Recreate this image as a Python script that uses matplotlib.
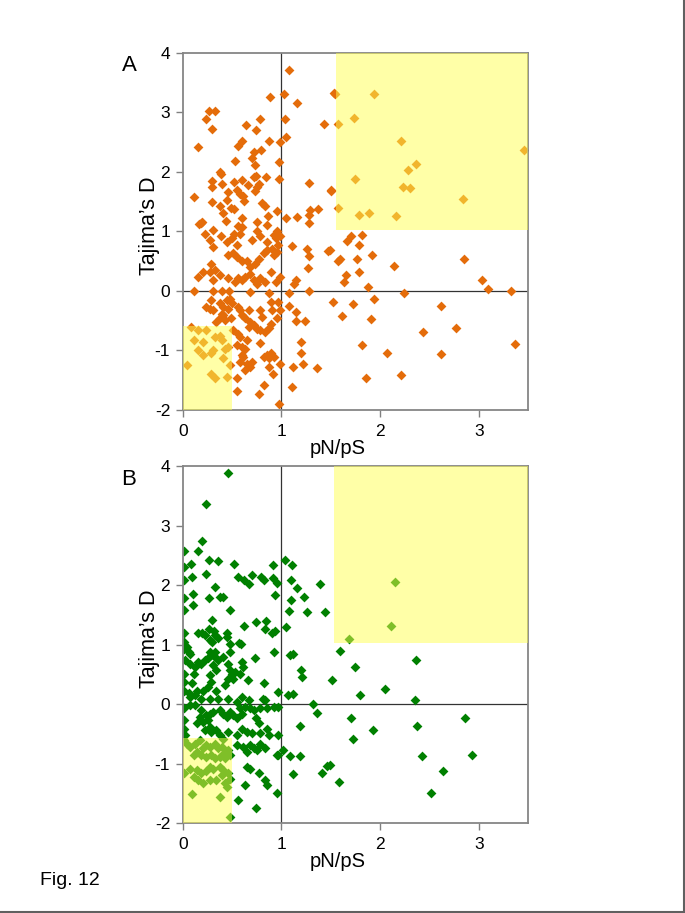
import matplotlib
matplotlib.use("Agg")
import matplotlib.pyplot as plt
from matplotlib.patches import Rectangle
from matplotlib.lines import Line2D

plt.rcParams['font.family'] = ['Liberation Sans', 'DejaVu Sans']

# ---------------- Panel A data (pN/pS, Tajima's D) ----------------
xA = [1.08, 0.88, 1.03, 1.16, 1.54, 1.575, 0.27, 0.33, 0.24, 0.30, 0.64, 0.78, 0.74, 1.04, 1.43,
      0.16, 0.605, 0.565, 0.87, 0.99, 1.05, 0.72, 0.79, 0.70, 0.53, 0.73, 0.98, 0.38, 0.385, 0.30,
      0.30, 0.40, 0.52, 0.60, 0.66, 0.72, 0.745, 0.845, 0.98, 0.77, 0.75, 0.73, 1.275, 1.50, 0.11,
      0.46, 0.55, 0.585, 0.615, 0.45, 0.625, 0.30, 0.38, 0.41, 0.49, 0.52, 0.80, 0.83, 0.95, 0.865,
      0.60, 0.44, 0.195, 0.185, 0.17, 0.56, 0.60, 0.75, 0.855, 1.045, 1.16, 1.275, 1.275, 1.29, 1.37,
      1.575, 0.23, 0.31, 0.39, 0.52, 0.75, 0.95, 0.92, 0.99,
      0.28, 0.31, 0.45, 0.50, 0.58, 0.55, 0.70, 0.78, 0.85, 0.94, 0.46, 0.51, 0.55, 0.60, 0.65,
      0.68, 0.73, 0.77, 0.82, 0.85, 0.90, 0.97, 0.95, 0.92, 0.29, 0.21, 0.28, 0.33, 0.16, 0.31,
      0.38, 0.46, 0.53, 0.56, 0.60, 0.63, 0.68, 0.72, 0.78, 0.75, 0.83, 0.89, 0.94, 0.99,
      0.11, 0.31, 0.40, 0.47, 0.68, 0.87, 1.08,
      0.29, 0.24, 0.28, 0.31, 0.38, 0.41, 0.40, 0.45, 0.48, 0.50, 0.46, 0.41, 0.38, 0.34, 0.43,
      0.49, 0.56, 0.58, 0.60, 0.63, 0.67, 0.68, 0.72, 0.67, 0.78, 0.80, 0.89, 0.90, 0.89, 0.95,
      0.99, 0.97, 0.75, 0.78, 0.83, 0.87, 0.78, 0.65, 0.58, 0.56, 0.51, 0.55, 0.60, 0.63, 0.60,
      0.61, 0.58, 0.65, 0.63, 0.68, 0.70, 0.82, 0.85, 0.89, 0.92, 0.87, 0.87, 0.91, 0.55, 0.82,
      0.77, 0.55, 0.99, 0.98,
      0.08, 0.16, 0.24, 0.11, 0.21, 0.33, 0.38, 0.40, 0.46, 0.43, 0.16, 0.21, 0.29, 0.31, 0.41,
      0.48, 0.04, 0.29, 0.33, 0.45,
      1.11, 1.26, 1.28, 1.27, 1.15, 1.13, 1.28, 1.47, 1.08, 1.15, 1.15, 1.24, 1.20, 1.20, 1.22,
      1.12, 1.36, 1.11,
      1.534, 1.94, 1.73, 2.21, 3.46, 2.36, 2.28, 1.75, 2.23, 2.30, 2.84, 1.50, 1.79, 1.89, 2.16,
      1.70, 1.82, 1.66, 1.79, 1.49, 1.92, 1.57, 1.59, 1.77, 2.14, 2.85, 1.79, 1.65, 1.63, 1.88,
      3.03, 3.09, 3.32, 2.24, 1.52, 1.72, 1.94, 2.62, 1.61, 1.91, 2.77, 2.43, 1.82, 2.07, 2.62,
      3.37, 1.86, 2.21]
yA = [3.71, 3.26, 3.30, 3.15, 3.31, 2.80, 3.02, 3.02, 2.89, 2.72, 2.79, 2.88, 2.70, 2.89, 2.80,
      2.41, 2.52, 2.44, 2.51, 2.50, 2.58, 2.34, 2.36, 2.23, 2.18, 2.12, 2.16, 2.00, 1.96, 1.85,
      1.74, 1.80, 1.83, 1.86, 1.78, 1.91, 1.93, 1.91, 1.88, 1.80, 1.75, 1.68, 1.82, 1.68, 1.575,
      1.66, 1.70, 1.62, 1.60, 1.53, 1.51, 1.49, 1.43, 1.31, 1.40, 1.37, 1.47, 1.42, 1.345, 1.255,
      1.22, 1.17, 1.16, 1.14, 1.12, 1.09, 1.08, 1.15, 1.11, 1.22, 1.235, 1.27, 1.14, 1.36, 1.37,
      1.40, 0.96, 1.02, 0.93, 0.96, 1.01, 1.01, 0.94, 0.92,
      0.85, 0.74, 0.82, 0.88, 0.96, 0.77, 0.85, 0.93, 0.82, 0.88, 0.60, 0.63, 0.57, 0.51, 0.51,
      0.40, 0.46, 0.54, 0.63, 0.68, 0.71, 0.77, 0.65, 0.60, 0.46, 0.32, 0.32, 0.35, 0.23, 0.18,
      0.26, 0.21, 0.15, 0.21, 0.18, 0.23, 0.29, 0.18, 0.21, 0.12, 0.15, 0.32, 0.15, 0.23,
      0.0, 0.0, 0.0, 0.0, -0.02, -0.03, -0.03,
      -0.16, -0.27, -0.30, -0.32, -0.21, -0.27, -0.38, -0.16, -0.13, -0.21, -0.30, -0.41, -0.46, -0.52, -0.49,
      -0.45, -0.27, -0.32, -0.41, -0.46, -0.32, -0.52, -0.58, -0.60, -0.32, -0.44, -0.18, -0.32, -0.55, -0.46,
      -0.32, -0.18, -0.64, -0.66, -0.69, -0.63, -0.88, -0.83, -0.77, -0.72, -0.66, -0.91, -0.94, -0.97, -1.08,
      -1.11, -1.19, -1.22, -1.33, -1.27, -1.19, -1.11, -1.08, -1.05, -1.11, -1.13, -1.27, -1.39, -1.47, -1.58,
      -1.73, -1.68, -1.23, -1.90,
      -0.60, -0.66, -0.66, -0.83, -0.85, -0.77, -0.76, -0.83, -0.94, -0.97, -0.99, -1.08, -1.05, -0.99, -1.13,
      -1.25, -1.25, -1.39, -1.47, -1.44,
      0.75, 0.71, 0.59, 0.39, 0.18, 0.11, 0.0, 0.67, -0.26, -0.36, -0.50, -0.50, -0.86, -1.05, -1.22,
      -1.27, -1.30, -1.61,
      3.32, 3.30, 2.90, 2.51, 2.36, 2.13, 2.03, 1.88, 1.74, 1.72, 1.55, 1.69, 1.28, 1.30, 1.26,
      0.93, 0.94, 0.83, 0.77, 0.68, 0.60, 0.50, 0.54, 0.54, 0.41, 0.54, 0.32, 0.26, 0.15, 0.06,
      0.18, 0.04, 0.0, -0.04, -0.18, -0.22, -0.14, -0.25, -0.42, -0.47, -0.62, -0.69, -0.91, -1.05, -1.06,
      -0.89, -1.46, -1.41]

# ---------------- Panel B data ----------------
xB = [0.46, 0.24, 0.20, 0.16, 0.01, 0.01, 0.08, 0.27, 0.36, 0.52, 0.91, 1.04, 1.11, 0.01, 0.09,
      0.24, 0.56, 0.62, 0.67, 0.70, 0.79, 0.82, 0.91, 0.96, 1.10, 1.16, 1.39, 0.33, 0.01, 0.10,
      0.27, 0.38, 0.41, 0.93, 1.10, 1.23, 0.01, 0.10, 0.48, 1.08, 1.26, 1.44, 0.30, 0.62, 0.74,
      0.84, 0.83, 0.90, 0.93, 1.05, 0.01, 0.155, 0.20, 0.23, 0.27, 0.32, 0.33, 0.28, 0.30, 0.36,
      0.45, 0.45, 0.48, 0.57, 0.59, 0.01, 0.01, 0.06, 0.33, 0.48, 0.92,
      0.04, 0.07, 0.02, 0.07, 0.125, 0.11, 0.16, 0.19, 0.23, 0.26, 0.29, 0.33, 0.28, 0.31, 0.34,
      0.36, 0.41, 0.46, 0.48, 0.50, 0.53, 0.51, 0.58, 0.61, 0.60, 0.66, 0.46, 0.43, 0.28, 0.29,
      0.26, 0.34, 0.21, 0.14, 0.06, 0.01, 0.01, 0.01, 0.09, 0.07, 0.125, 0.19, 0.28, 0.36, 0.46,
      0.55, 0.60, 0.67, 0.73, 0.82, 0.81, 0.83, 0.97, 1.09, 1.12, 1.20, 1.21, 1.07, 1.12,
      0.01, 0.07, 0.125, 0.19, 0.24, 0.28, 0.31, 0.38, 0.41, 0.45, 0.48, 0.51, 0.55, 0.58, 0.60,
      0.63, 0.68, 0.72, 0.74, 0.78, 0.85, 0.92, 0.97, 1.32, 1.36, 0.01, 0.01, 0.02, 0.18, 0.14,
      0.21, 0.26, 0.28, 0.23, 0.29, 0.34, 0.38, 0.41, 0.46, 0.55, 0.60, 0.65, 0.70, 0.78, 0.87,
      0.97, 0.77, 0.85, 1.19, 0.55, 0.61, 0.65, 0.68, 0.72, 0.75, 0.78, 0.83, 0.95, 0.97, 1.02,
      1.09, 1.19, 0.65, 0.68, 0.77, 0.83, 0.85, 0.63, 0.95, 0.56, 0.74, 1.12, 1.41, 1.46,
      0.01, 0.04, 0.07, 0.125, 0.18, 0.21, 0.24, 0.28, 0.33, 0.36, 0.40, 0.41, 0.46, 0.48, 0.11,
      0.14, 0.19, 0.24, 0.29, 0.33, 0.38, 0.43, 0.01, 0.07, 0.14, 0.19, 0.24, 0.28, 0.31, 0.38,
      0.41, 0.40, 0.46, 0.48, 0.11, 0.16, 0.21, 0.28, 0.34, 0.43, 0.45, 0.09, 0.38, 0.48,
      2.15, 2.11, 1.68, 1.59, 1.74, 2.36, 1.51, 1.80, 2.05, 2.35, 1.70, 1.93, 1.72, 2.37, 2.86,
      2.42, 2.93, 2.64, 2.51, 1.58, 1.49]
yB = [3.89, 3.37, 2.74, 2.58, 2.57, 2.31, 2.35, 2.42, 2.41, 2.35, 2.34, 2.42, 2.33, 2.08, 2.14,
      2.18, 2.13, 2.09, 2.02, 2.17, 2.14, 2.09, 2.12, 2.03, 2.08, 1.95, 2.02, 1.96, 1.79, 1.85,
      1.79, 1.80, 1.80, 1.83, 1.75, 1.80, 1.58, 1.66, 1.59, 1.56, 1.55, 1.55, 1.42, 1.31, 1.38,
      1.39, 1.26, 1.20, 1.23, 1.29, 1.20, 1.20, 1.19, 1.16, 1.26, 1.23, 1.17, 1.08, 1.04, 1.11,
      1.19, 1.13, 1.01, 1.02, 1.01, 1.05, 0.92, 0.87, 0.87, 0.87, 0.87,
      0.96, 0.85, 0.74, 0.68, 0.63, 0.51, 0.71, 0.68, 0.74, 0.77, 0.82, 0.79, 0.88, 0.65, 0.57,
      0.74, 0.79, 0.68, 0.57, 0.51, 0.54, 0.43, 0.51, 0.63, 0.71, 0.41, 0.43, 0.32, 0.49, 0.37,
      0.29, 0.23, 0.23, 0.23, 0.18, 0.23, 0.37, 0.51, 0.35, 0.12, 0.15, 0.09, 0.08, 0.08, 0.09,
      0.04, 0.12, 0.07, 0.77, 0.35, 0.09, 0.07, 0.20, 0.82, 0.85, 0.57, 0.46, 0.16, 0.17,
      -0.07, -0.02, -0.02, -0.10, -0.18, -0.16, -0.13, -0.09, -0.16, -0.21, -0.13, -0.18, -0.24, -0.07, -0.16,
      -0.04, -0.07, -0.10, -0.24, -0.07, -0.07, -0.04, -0.04, 0.0, -0.15, -0.27, -0.41, -0.52, -0.21, -0.32,
      -0.30, -0.27, -0.38, -0.44, -0.46, -0.44, -0.52, -0.58, -0.46, -0.52, -0.41, -0.46, -0.49, -0.49, -0.52,
      -0.52, -0.32, -0.41, -0.37, -0.69, -0.72, -0.80, -0.69, -0.74, -0.77, -0.66, -0.74, -0.85, -0.85, -0.77,
      -0.87, -0.87, -1.05, -1.08, -1.16, -1.27, -1.36, -1.36, -1.49, -1.61, -1.75, -1.18, -1.15, -1.03,
      -0.60, -0.66, -0.72, -0.66, -0.60, -0.74, -0.69, -0.72, -0.66, -0.74, -0.72, -0.83, -0.77, -0.85, -0.85,
      -0.80, -0.85, -0.88, -0.85, -0.91, -0.88, -0.91, -1.16, -1.08, -1.11, -1.16, -1.13, -1.05, -1.08, -1.05,
      -1.11, -1.19, -1.16, -1.25, -1.22, -1.27, -1.33, -1.27, -1.27, -1.33, -1.39, -1.50, -1.55, -1.89,
      2.05, 1.31, 1.09, 0.89, 0.63, 0.74, 0.41, 0.16, 0.25, 0.07, -0.23, -0.44, -0.59, -0.36, -0.23,
      -0.87, -0.86, -1.12, -1.49, -1.30, -1.02]

xticks = [0, 1, 2, 3]
yticks = [-2, -1, 0, 1, 2, 3, 4]

W, H = 685, 913
fig = plt.figure(figsize=(W / 100, H / 100), dpi=100)

def px(x, y):
    return x / W, 1 - y / H

left, right = 182.7, 528.3
panels = [
    dict(top=52.7, bottom=410.0, x=xA, y=yA, color='#E46C0A', label='A',
         boxes=[(0, -2, 0.50, 1.41), (1.556, 1.03, 1.944, 2.97)]),
    dict(top=466.0, bottom=823.3, x=xB, y=yB, color='#008000', label='B',
         boxes=[(0, -2, 0.50, 1.43), (1.53, 1.02, 1.97, 2.98)]),
]

for p in panels:
    ax = fig.add_axes([left / W, 1 - p['bottom'] / H, (right - left) / W, (p['bottom'] - p['top']) / H])
    ax.set_xlim(0, 3.5)
    ax.set_ylim(-2, 4)
    ax.axvline(1, color='#333333', lw=0.9, zorder=1)
    ax.axhline(0, color='#333333', lw=0.9, zorder=1)
    ax.scatter(p['x'], p['y'], marker='D', s=25, color=p['color'], linewidths=0, zorder=2)
    for (bx, by, bw, bh) in p['boxes']:
        ax.add_patch(Rectangle((bx, by), bw, bh, facecolor='#FFFF50', alpha=0.5,
                               edgecolor='none', zorder=3))
    ax.set_xticks(xticks)
    ax.set_yticks(yticks)
    ax.set_xticklabels([str(t) for t in xticks])
    ax.set_yticklabels([str(t) for t in yticks])
    ax.tick_params(direction='out', length=5, width=1, color='#808080',
                   labelsize=12.5)
    ax.tick_params(axis='x', pad=5)
    ax.tick_params(axis='y', pad=4)
    for s in ax.spines.values():
        s.set_color('#868686')
        s.set_linewidth(1.3)
    mid = (p['top'] + p['bottom']) / 2
    fig.text(*px(150, mid - 6), 'Tajima’s D', rotation=90, ha='center', va='center', fontsize=15.5)
    fig.text(*px(338, p['bottom'] + 38), 'pN/pS', ha='center', va='center', fontsize=14.5)
    fig.text(*px(129, p['top'] + 13), p['label'], ha='center', va='center', fontsize=16)

fig.text(*px(40, 880), 'Fig. 12', ha='left', va='center', fontsize=14)

# page frame (right and bottom edges)
fig.add_artist(Line2D([684 / W, 684 / W], [0, 1], color='#606060', lw=1.5, transform=fig.transFigure))
fig.add_artist(Line2D([0, 1], [1 - 911.5 / H, 1 - 911.5 / H], color='#606060', lw=1.5, transform=fig.transFigure))

fig.savefig('out.png', dpi=100)
